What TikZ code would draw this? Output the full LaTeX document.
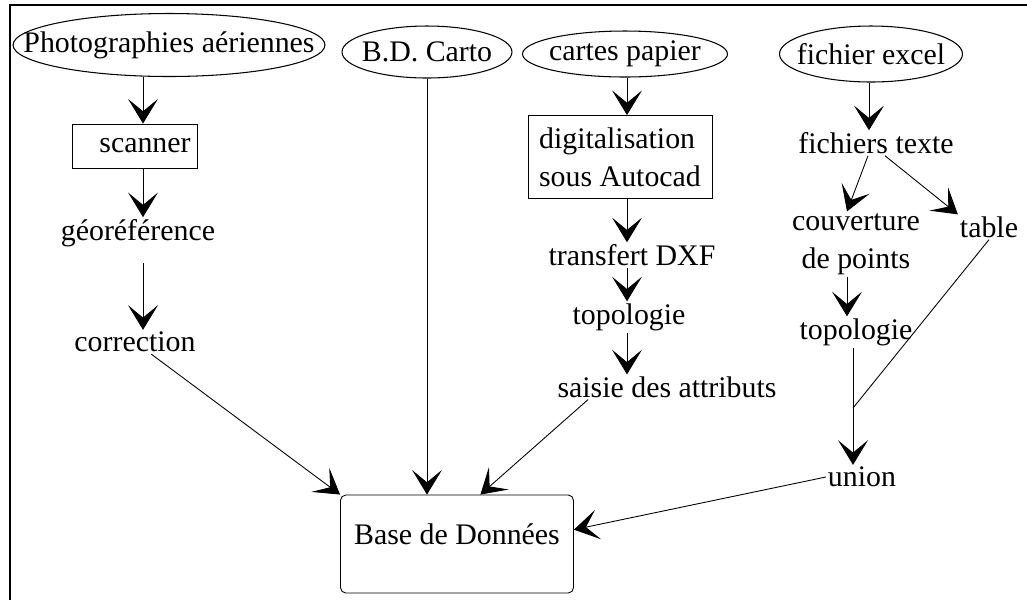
\documentclass[tikz,border=0pt]{standalone}
\usepackage{fontspec}
\setmainfont{Liberation Serif}
\usetikzlibrary{arrows.meta,positioning,shapes.geometric,calc}
\tikzset{
  srcnode/.style={draw, ellipse, inner sep=0pt, line width=0.6pt},
  stepbox/.style={draw, rectangle, inner sep=1pt, line width=0.5pt},
  lbl/.style={inner sep=1pt},
  flow/.style={line width=0.5pt, -{Stealth[length=14pt,width=17pt,inset=7pt]}},
  link/.style={line width=0.5pt},
  frame/.style={line width=1.6pt},
}
\newcommand{\inell}[1]{\makebox[0pt]{#1}}

\begin{document}
\begin{tikzpicture}[x=0.02cm, y=-0.02cm, font=\fontsize{17}{21.5}\selectfont]
  \useasboundingbox (0,0) rectangle (1027,600);
  \draw[frame] (1027,5) -- (10,5) -- (10,600);
  % sources
  \node[srcnode, minimum width=6.24cm, minimum height=1.26cm] (photo) at (169,45) {\inell{Photographies aériennes}};
  \node[srcnode, minimum width=3.4cm, minimum height=1.04cm] (bd) at (427,52) {\inell{B.D. Carto}};
  \node[srcnode, minimum width=4.1cm, minimum height=0.92cm] (cartes) at (625,54) {\inell{cartes papier}};
  \node[srcnode, minimum width=3.66cm, minimum height=1.12cm] (excel) at (871,54) {\inell{fichier excel}};
  % columns
  \coordinate (colA) at (143,0);
  \coordinate (colB) at (627,0);
  \coordinate (colC) at (869,0);
  \coordinate (colD) at (847,0);
  \coordinate (jn) at (853,408);
  % photographies
  \node[stepbox, minimum width=2.5cm, minimum height=0.88cm] (scan) at (135,146) {\hspace{0.4cm}scanner};
  \node[lbl] (geo) at (138,233) {géoréférence};
  \node[lbl] (corr) at (135,342) {correction};
  % cartes papier
  \node[stepbox, minimum width=3.68cm, minimum height=1.66cm, align=left] (digi) at (620,157) {digitalisation\\sous Autocad};
  \node[lbl] (dxf) at (632,255) {transfert DXF};
  \node[lbl] (topoA) at (629,317) {topologie};
  \node[lbl] (saisie) at (667,387) {saisie des attributs};
  % fichier excel
  \node[lbl] (ftxt) at (876,143) {fichiers texte};
  \node[lbl, align=center] (couv) at (856,244) {couverture\\de points};
  \node[lbl] (table) at (989,227) {table};
  \node[lbl] (topoB) at (856,332) {topologie};
  \node[lbl] (union) at (862,477) {union};
  % base
  \node[draw, rounded corners=3pt, line width=0.5pt, minimum width=4.66cm, minimum height=1.96cm,
        text height=8pt, text depth=8pt] (base) at (457,544) {Base de Données};

  \draw[flow] (photo.south -| colA) -- (scan.north -| colA);
  \draw[flow] (scan.south -| colA) -- (geo.north -| colA);
  \draw[flow, shorten <=8pt] (geo.south -| colA) -- (corr.north -| colA);

  \draw[flow] (cartes.south -| colB) -- (digi.north -| colB);
  \draw[flow] (digi.south -| colB) -- (dxf.north -| colB);
  \draw[flow] (dxf.south -| colB) -- (topoA.north -| colB);
  \draw[flow] (topoA.south -| colB) -- (saisie.north -| colB);

  \draw[flow] (excel.south -| colC) -- (ftxt.north -| colC);
  \draw[flow] ($(ftxt.south)+(-8,0)$) -- ($(couv.north)+(-9,0)$);
  \draw[flow] ($(ftxt.south)+(9,0)$) -- (table.north west);
  \draw[flow] (couv.south -| colD) -- (topoB.north -| colD);
  \draw[link] (table.south) -- (jn);
  \draw[flow] (topoB.south -| jn) -- (union.north -| jn);

  \draw[flow] (corr) -- (base.north west);
  \draw[flow] (bd.south) -- (bd.south |- base.north);
  \draw[flow] ($(saisie.south)+(-79,0)$) -- ($(base.north west)!0.6!(base.north east)$);
  \draw[flow] (union.west) -- (base.7);
\end{tikzpicture}
\end{document}
